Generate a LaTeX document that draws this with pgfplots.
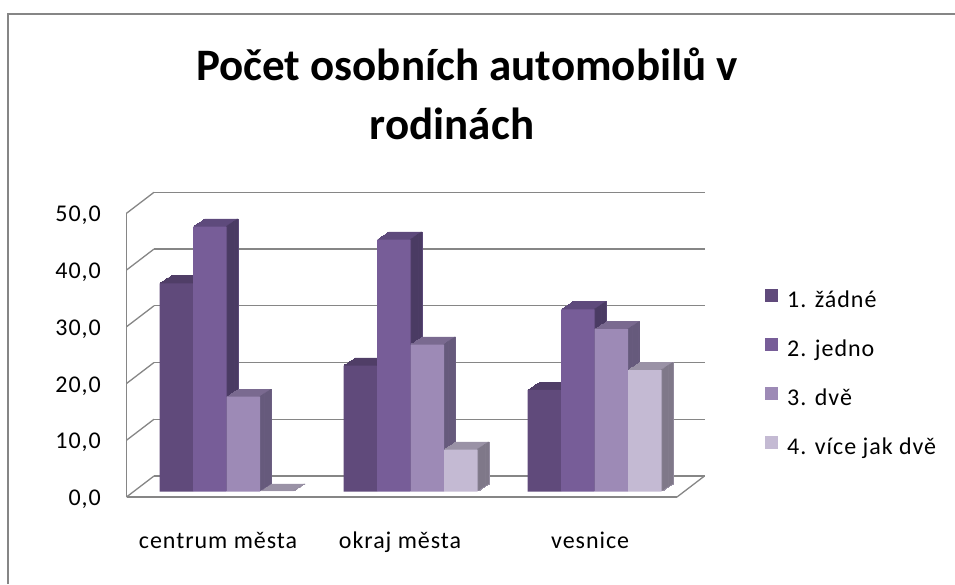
\documentclass[border=0pt]{standalone}
\usepackage{pgfplots}
\usepackage{pgfplotstable}
\pgfplotsset{compat=1.18}
\usepackage{fontspec}
\setmainfont{Carlito}
\newfontfamily\lbl{Carlito}[LetterSpace=4]

\definecolor{frame}{RGB}{134,134,134}
\definecolor{gridc}{RGB}{134,134,134}
\definecolor{aF}{RGB}{96,74,123}   \definecolor{aT}{RGB}{80,62,103}   \definecolor{aS}{RGB}{74,58,97}
\definecolor{bF}{RGB}{119,93,152}  \definecolor{bT}{RGB}{94,74,124}   \definecolor{bS}{RGB}{74,59,99}
\definecolor{cF}{RGB}{157,138,182} \definecolor{cT}{RGB}{122,106,144} \definecolor{cS}{RGB}{102,90,124}
\definecolor{dF}{RGB}{196,186,211} \definecolor{dT}{RGB}{154,146,166} \definecolor{dS}{RGB}{127,120,137}

\pgfplotstableread{
x a b c d
0 36.7 46.7 16.7 0.0
1 22.2 44.4 25.9 7.4
2 17.9 32.1 28.6 21.4
}\data

\pgfplotsset{sq/.style={legend image code/.code={\fill[##1] (0pt,-6.5pt) rectangle (13pt,6.5pt); \path (22pt,0pt);}}}

% #1 column, #2 bar shift, #3 side-strip shift, #4 front, #5 top, #6 side
\newcommand\series[6]{%
  \pgfplotsinvokeforeach{1,...,10}{%
    \addplot[ybar, bar width=33.5pt, bar shift=#2pt, fill=#5, draw=#5, line width=0.6pt, forget plot,
      xshift=##1*1.17pt, yshift=##1*0.77pt+5.5pt] table[x=x,y=#1]{\data};
  }
  \pgfplotsinvokeforeach{1,...,10}{%
    \addplot[ybar, bar width=1.5pt, bar shift=#3pt, fill=#6, draw=none, forget plot,
      xshift=##1*1.17pt, yshift=##1*0.77pt+5.5pt] table[x=x,y=#1]{\data};
  }
  \addplot[ybar, bar width=33.5pt, bar shift=#2pt, fill=#4, draw=none, sq, yshift=5.5pt] table[x=x,y=#1]{\data};
}

\begin{document}
\begin{tikzpicture}[x=1pt,y=1pt]
\path[use as bounding box] (0,0) rectangle (955,584);
\draw[frame, line width=2pt] (8,0) -- (8,570) -- (955,570);
\node[anchor=base, font=\bfseries\fontsize{45}{54}\selectfont, inner sep=0pt] at (467,503.3) {Počet osobních automobilů v};
\node[anchor=base, font=\bfseries\fontsize{45}{54}\selectfont, inner sep=0pt] at (452,444) {rodinách};
\begin{axis}[
  at={(126.5pt,87pt)}, anchor=south west, scale only axis,
  width=550.5pt, height=283.7pt, clip=false,
  xmin=-0.5435, xmax=2.448, ymin=0, ymax=50,
  axis lines*=left, axis line style={gridc, line width=1.3pt},
  major tick length=0pt,
  ytick={0,10,...,50},
  ymajorgrids, major grid style={gridc, line width=1.3pt, xshift=27.5pt, yshift=21pt},
  xtick={-0.046,0.943,1.976},
  xticklabels={centrum města, okraj města, vesnice},
  xticklabel style={font=\lbl\fontsize{24}{27}\selectfont, anchor=base, yshift=-51pt, inner sep=0pt},
  yticklabel style={font=\lbl\fontsize{24}{27}\selectfont, anchor=east, xshift=-25.5pt, yshift=-2.4pt, inner sep=0pt},
  /pgf/number format/.cd, fixed, fixed zerofill, precision=1, use comma, assume math mode=true, /pgfplots/.cd,
  legend style={at={(1.1599,0.4327)}, anchor=west, draw=none, fill=none, inner sep=0pt,
    row sep=26pt, font=\lbl\fontsize{24}{27}\selectfont,
    nodes={inner sep=0pt, text height=17pt, text depth=5pt}},
  legend cell align=left,
]
\pgfplotsinvokeforeach{0,10,...,50}{\draw[gridc, line width=1.3pt] (axis cs:-0.5435,#1) -- ++(27.5pt,21pt);}
\draw[gridc, line width=1.3pt] (axis cs:2.448,0) -- ++(27.5pt,21pt);
\series{a}{-50.25}{-34.25}{aF}{aT}{aS}
\addlegendentry{1. žádné}
\series{b}{-16.75}{-0.75}{bF}{bT}{bS}
\addlegendentry{2. jedno}
\series{c}{16.75}{32.75}{cF}{cT}{cS}
\addlegendentry{3. dvě}
\series{d}{50.25}{66.25}{dF}{dT}{dS}
\addlegendentry{4. více jak dvě}
\end{axis}
\end{tikzpicture}
\end{document}
